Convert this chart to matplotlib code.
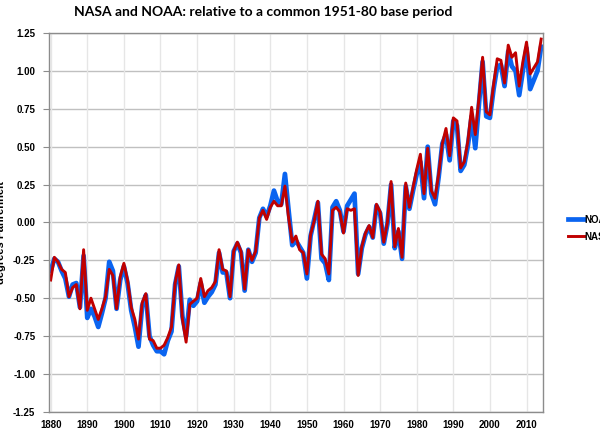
################################################
# NASA and NOAA global temperature anomalies
# relative to 1951-80, degrees Fahrenheit
################################################

import numpy as np
import matplotlib.pyplot as plt

################################################
# Data

years = np.arange(1880, 2015)

# NASA (red)
nasa = [-0.38, -0.23, -0.26, -0.31, -0.33, -0.49, -0.43, -0.41, -0.57, -0.18,
        -0.58, -0.50, -0.57, -0.64, -0.57, -0.49, -0.31, -0.35, -0.57, -0.36,
        -0.27, -0.38, -0.56, -0.64, -0.77, -0.53, -0.47, -0.77, -0.78, -0.83,
        -0.83, -0.81, -0.76, -0.69, -0.40, -0.28, -0.64, -0.79, -0.54, -0.52,
        -0.50, -0.37, -0.49, -0.45, -0.43, -0.39, -0.18, -0.31, -0.32, -0.49,
        -0.19, -0.13, -0.19, -0.44, -0.18, -0.25, -0.19, 0.03, 0.08, 0.02,
        0.10, 0.14, 0.11, 0.11, 0.24, 0.03, -0.13, -0.09, -0.18, -0.20,
        -0.34, -0.08, 0.01, 0.14, -0.21, -0.24, -0.34, 0.08, 0.10, 0.07,
        -0.07, 0.09, 0.08, 0.09, -0.35, -0.16, -0.07, -0.02, -0.10, 0.12,
        0.07, -0.13, 0.00, 0.27, -0.16, -0.04, -0.23, 0.26, 0.10, 0.23,
        0.35, 0.45, 0.19, 0.49, 0.21, 0.16, 0.32, 0.52, 0.62, 0.44,
        0.69, 0.67, 0.36, 0.40, 0.54, 0.76, 0.58, 0.82, 1.09, 0.73,
        0.71, 0.91, 1.08, 1.07, 0.92, 1.17, 1.09, 1.12, 0.90, 1.06,
        1.19, 0.98, 1.02, 1.06, 1.21]

# NOAA (blue)
noaa = [-0.32, -0.24, -0.26, -0.32, -0.37, -0.49, -0.41, -0.40, -0.56, -0.22,
        -0.63, -0.57, -0.62, -0.69, -0.60, -0.50, -0.26, -0.32, -0.57, -0.38,
        -0.29, -0.40, -0.58, -0.69, -0.82, -0.55, -0.48, -0.75, -0.81, -0.85,
        -0.85, -0.87, -0.78, -0.72, -0.41, -0.29, -0.62, -0.75, -0.51, -0.55,
        -0.52, -0.40, -0.53, -0.49, -0.46, -0.41, -0.20, -0.33, -0.33, -0.50,
        -0.19, -0.14, -0.20, -0.45, -0.18, -0.26, -0.20, 0.03, 0.09, 0.04,
        0.11, 0.21, 0.14, 0.12, 0.32, 0.08, -0.15, -0.12, -0.16, -0.20,
        -0.37, -0.09, 0.02, 0.13, -0.24, -0.27, -0.38, 0.10, 0.14, 0.08,
        -0.06, 0.11, 0.15, 0.19, -0.34, -0.17, -0.08, -0.03, -0.10, 0.11,
        0.06, -0.14, -0.01, 0.25, -0.17, -0.06, -0.24, 0.24, 0.09, 0.21,
        0.32, 0.40, 0.16, 0.50, 0.19, 0.12, 0.30, 0.52, 0.58, 0.41,
        0.67, 0.64, 0.34, 0.38, 0.51, 0.70, 0.49, 0.78, 1.06, 0.70,
        0.69, 0.88, 1.03, 1.04, 0.90, 1.13, 1.03, 1.00, 0.84, 1.00,
        1.15, 0.88, 0.94, 1.00, 1.16]

y_ticks = np.arange(-1.25, 1.26, 0.25)
x_ticks = np.arange(1880, 2011, 10)

################################################
# Plotting

fig = plt.figure(figsize=(6, 4.29), dpi=100)
ax = fig.add_axes([0.082, 0.04, 0.823, 0.883])

ax.plot(years, noaa, color='#0a64f0', lw=3.4, label='NOAA', solid_joinstyle='round')
ax.plot(years, nasa, color='#c00000', lw=2.1, label='NASA', solid_joinstyle='round')

ax.set_xlim(1879.6, 2014.5)
ax.set_ylim(-1.25, 1.25)
ax.set_yticks(y_ticks)
ax.set_yticklabels(['%.2f' % v for v in y_ticks])
ax.set_xticks(x_ticks)

# grid: horizontal darker, vertical light
for v in y_ticks:
    ax.axhline(v, color='#c0c0c0', lw=1.0, zorder=0)
for v in x_ticks:
    ax.axvline(v, color='#e6e6e6', lw=1.0, zorder=0)

for s in ax.spines.values():
    s.set_color('#8c8c8c')
    s.set_linewidth(1.0)

ax.tick_params(axis='y', direction='out', length=4, color='#8c8c8c', pad=6)
ax.tick_params(axis='x', length=0, pad=6)
for lab in ax.get_xticklabels() + ax.get_yticklabels():
    lab.set_fontfamily('Liberation Sans')
    lab.set_fontweight('bold')
    lab.set_fontsize(7)

fig.text(0.438, 0.972, 'NASA and NOAA: relative to a common 1951-80 base period',
         ha='center', va='center', fontsize=10, fontweight='bold', family='Lato')

# y label, partly cut off at the left edge as in the source image
fig.text(0.002, 0.459, 'degrees Fahrenheit', rotation=90, ha='center', va='center',
         fontsize=8, fontweight='bold', family='Liberation Sans')

fig.legend(loc='center left', bbox_to_anchor=(0.932, 0.468), frameon=False,
           handlelength=1.6, handletextpad=0.1, labelspacing=0.7,
           prop={'family': 'Liberation Sans', 'weight': 'bold', 'size': 7})

plt.savefig('out.png', dpi=100)
